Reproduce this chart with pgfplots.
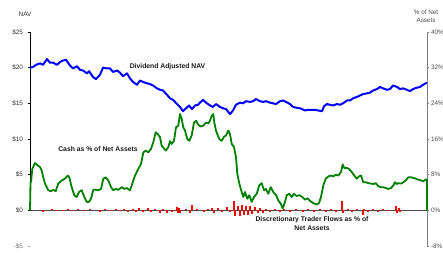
\documentclass[border=0pt]{standalone}
\usepackage{fontspec}
\setmainfont{Liberation Sans}
\usepackage{pgfplots}
\pgfplotsset{compat=1.18}
\definecolor{navblue}{RGB}{0,0,255}
\definecolor{cashgreen}{RGB}{0,128,0}
\definecolor{flowred}{RGB}{255,0,0}
\begin{document}
\begin{tikzpicture}[x=1pt,y=1pt]
\path[use as bounding box] (0,0) rectangle (443,252);
% ---------------- left axis: NAV ----------------
\begin{axis}[
  at={(30pt,6pt)}, anchor=south west, scale only axis,
  width=397pt, height=214pt,
  xmin=30, xmax=427, ymin=-5, ymax=25, clip=false,
  axis x line=none, axis y line*=left,
  y axis line style={draw=none},
  ytick={0,5,10,15,20,25},
  yticklabels={\$0,\$5,\$10,\$15,\$20,\$25},
  extra y ticks={-5}, extra y tick labels={-\$5},
  extra y tick style={tick style={black!35}, yticklabel style={text=black!55}},
  tick align=outside, major tick length=2.5pt,
  tick style={black, line width=0.7pt},
  yticklabel style={font=\fontsize{6.4}{7}\selectfont, text=black!80, xshift=-1pt},
]
\draw[black, line width=1pt] (axis cs:30,0) -- (axis cs:30,25);
\draw[black!70, line width=1pt] (axis cs:30,0) -- (axis cs:427,0);
\addplot[navblue, line width=2pt, line join=round] coordinates {
(30,20.0) (33,20.1) (36,20.4) (40,20.6) (43,20.4) (47,21.2) (50,20.7) (53,20.7)
(57,20.4) (60,20.8) (63,21.0) (66,21.1) (70,20.3) (73,19.9) (77,20.2) (80,19.7)
(83,19.6) (87,19.2) (89,19.5) (93,18.7) (96,18.4) (100,19.0) (103,20.0) (107,19.9)
(110,19.9) (113,19.4) (117,19.6) (120,19.3) (123,18.8) (127,19.2) (130,18.5) (133,18.0)
(137,17.6) (140,18.2) (143,18.0) (147,17.8) (150,17.7) (153,17.5) (157,17.1) (160,16.9)
(163,16.8) (167,16.2) (170,15.7) (173,15.5) (177,14.9) (180,14.5) (183,13.9) (186,14.3)
(189,14.7) (192,14.2) (195,14.7) (198,14.8) (200,15.1) (203,15.5) (206,15.1) (210,14.7)
(213,14.5) (216,14.9) (220,14.5) (223,14.3) (226,14.2) (230,13.5) (233,14.0) (236,14.8)
(240,15.1) (243,15.0) (246,15.3) (250,15.2) (253,15.3) (256,15.6) (260,15.3) (263,15.2)
(266,15.3) (270,15.1) (273,15.0) (276,14.9) (280,15.3) (283,15.4) (286,15.2) (290,14.9)
(293,14.5) (296,14.4) (300,14.3) (302,14.2) (305,14.0) (308,14.1) (312,14.1) (315,14.1)
(318,14.0) (322,13.9) (324,14.6) (327,14.9) (330,14.8) (333,14.7) (337,14.9) (340,14.8)
(343,15.0) (347,15.4) (350,15.4) (353,15.7) (357,15.9) (360,16.1) (363,16.3) (367,16.4)
(370,16.5) (373,16.8) (377,17.0) (380,17.3) (383,17.1) (387,16.9) (390,17.0) (393,17.5)
(397,17.3) (400,17.0) (403,17.1) (407,16.9) (410,16.7) (413,17.0) (417,17.2) (420,17.3)
(423,17.6) (427,17.9)
};
\end{axis}
% ---------------- right axis: % of net assets ----------------
\begin{axis}[
  at={(30pt,6pt)}, anchor=south west, scale only axis,
  width=397pt, height=214pt,
  xmin=30, xmax=427, ymin=-8, ymax=40, clip=false,
  axis x line=none, axis y line*=right,
  y axis line style={-, black!50, line width=1pt},
  ytick={-8,0,8,16,24,32,40},
  yticklabel={\pgfmathprintnumber{\tick}\%},
  /pgf/number format/assume math mode=true,
  tick align=outside, major tick length=2pt,
  tick style={black!50, line width=0.7pt},
  yticklabel style={font=\fontsize{6.4}{7}\selectfont, text=black!70, anchor=west, xshift=-1.5pt},
]
\addplot[flowred, ycomb, line width=1.4pt] coordinates {
(43,-0.4) (52,0.2) (57,-0.2) (63,-0.2) (68,0.2) (72,-0.2) (78,0.2) (84,-0.2) (90,0.2)
(100,-0.3) (105,0.2) (110,-0.2) (116,0.3) (120,-0.2) (124,0.3) (128,-0.3) (133,0.3)
(136,-0.3) (139,0.5) (143,-0.4) (148,0.5) (151,-0.3) (155,0.4) (160,-0.5) (163,0.4)
(167,-0.5) (172,-0.4) (177,0.7) (178,-0.7) (179,0.6) (180,-0.6) (186,0.4) (190,-0.5)
(192,1.1) (197,0.3) (204,-0.3) (208,0.3) (212,0.5) (214,-0.6) (218,0.5) (222,-0.4)
(227,0.8) (230,-0.4) (234,2.1) (235,-1.3) (238,1.0) (240,-1.2) (242,1.2) (244,-1.0)
(246,0.9) (248,-1.1) (250,1.0) (252,-0.8) (255,0.7) (258,-0.6) (260,0.6) (263,-0.5)
(266,0.3) (270,-0.3) (275,0.3) (280,-0.3) (284,0.3) (290,-0.3) (296,0.2) (303,-0.3)
(308,0.3) (314,-0.3) (320,0.2) (326,-0.3) (331,0.3) (336,-0.3) (342,2.0) (343,-0.6)
(348,0.3) (352,-0.3) (357,0.3) (363,-1.1) (364,0.4) (368,-0.3) (373,0.3) (378,-0.3)
(383,0.3) (388,-0.2) (396,0.9) (397,-0.5) (399,0.6) (400,-0.4)
};
\addplot[cashgreen, line width=1.8pt, line join=round] coordinates {
(30,0) (30.5,6.3) (31,6.3) (32.3,9.3) (35,10.6) (37.7,10.1) (40,9.7) (41.7,8.9)
(43.3,7.4) (45,6.0) (46.7,5.2) (48.3,4.5) (51,4.3) (53.3,4.6) (55.7,4.3) (58.3,6.0)
(61.7,6.7) (65,7.1) (67.7,7.8) (69.3,7.4) (71.7,5.2) (74.3,3.4) (76.7,3.0) (79,4.1)
(81.7,4.5) (84.3,3.0) (86.7,1.9) (89,1.9) (91,2.6) (93.3,4.6) (95.7,4.6) (98.3,4.5)
(101,4.8) (103.3,7.1) (105.7,7.4) (108.3,6.7) (111,5.2) (113.3,4.5) (115.7,4.8) (118.3,4.6)
(121.7,5.2) (124.3,4.8) (126.7,5.0) (130,4.5) (132.3,6.0) (135,7.8) (138.3,9.3) (141,10.4)
(143.3,13.0) (145.7,13.4) (148.3,13.0) (151,13.8) (153.3,15.3) (155.7,17.5) (157.7,17.1) (160,16.4)
(161.7,14.5) (164.3,13.8) (166,13.4) (168.3,14.2) (170,15.5) (171.7,14.9) (174,15.6) (176,18.6)
(178.3,19.0) (180,21.6) (181.7,20.5) (183.3,18.6) (185,17.9) (187.3,16.0) (189.3,15.6) (191.7,16.8)
(194,19.7) (196,20.1) (198.3,19.2) (200.7,18.8) (203.3,19.0) (206,19.7) (208.3,19.5) (210,20.1)
(211.7,21.2) (213.3,21.6) (214.3,19.7) (216,17.9) (217.3,17.1) (219.3,16.0) (221.7,15.6) (224,16.5)
(226,16.8) (228.3,17.9) (230,17.1) (231.7,14.9) (234,14.2) (236,11.9) (237.3,8.2) (239.3,6.0)
(241.7,4.1) (243.3,3.0) (245,4.1) (247.3,2.6) (249.3,3.4) (251.7,1.9) (254,3.0) (256.7,3.7)
(259.3,5.6) (261.7,6.1) (264,4.5) (266,4.8) (268.3,3.7) (270.7,5.2) (273.3,4.1) (276,3.4)
(278.3,2.2) (280.7,1.5) (282.7,0.4) (285,1.9) (286.7,3.4) (289.3,3.7) (291.7,3.0) (294,3.7)
(296.7,3.2) (299.3,3.4) (302.3,3.0) (305,2.4) (307.7,2.7) (310,2.1) (313.3,1.6) (316.7,1.3)
(319,1.6) (321,3.0) (323.3,5.6) (325.7,7.1) (328.3,7.6) (331,7.8) (333.3,7.6) (335.7,8.0)
(338.3,7.8) (341,8.6) (342.7,10.3) (344.3,9.5) (346.7,9.5) (349,9.3) (351.7,8.6) (354.3,7.8)
(356.7,7.1) (359,7.6) (361,7.8) (363.3,6.3) (365.7,6.3) (368.3,6.1) (371,6.0) (373.3,5.9)
(375.7,6.1) (378.3,5.4) (381,5.2) (383.3,5.2) (385.7,5.0) (388.3,4.8) (391,5.0) (393.3,5.6)
(395,6.3) (396.7,5.9) (398.3,6.1) (401,6.0) (403.3,6.3) (405.7,6.7) (408.3,7.4) (411,7.4)
(413.3,7.3) (415.7,7.1) (418.3,6.9) (421,6.7) (423.3,6.5) (425.7,6.9) (427,6.9) (427,0)
};
\end{axis}
% ---------------- labels ----------------
\node[font=\fontsize{6.5}{7.5}\selectfont, text=black!80] at (25,238) {NAV};
\node[font=\fontsize{6.3}{8}\selectfont, text=black!70, align=center] at (426,236) {\% of Net\\Assets};
\node[font=\fontsize{6.8}{8}\selectfont\bfseries, text=black!90] at (167.5,185) {Dividend Adjusted NAV};
\node[font=\fontsize{6.8}{8}\selectfont\bfseries, text=black!90] at (98,103) {Cash as \% of Net Assets};
\node[font=\fontsize{6.8}{8.4}\selectfont\bfseries, text=black!90, align=center] at (312,28.5) {Discretionary Trader Flows as \% of\\Net Assets};
\end{tikzpicture}
\end{document}
